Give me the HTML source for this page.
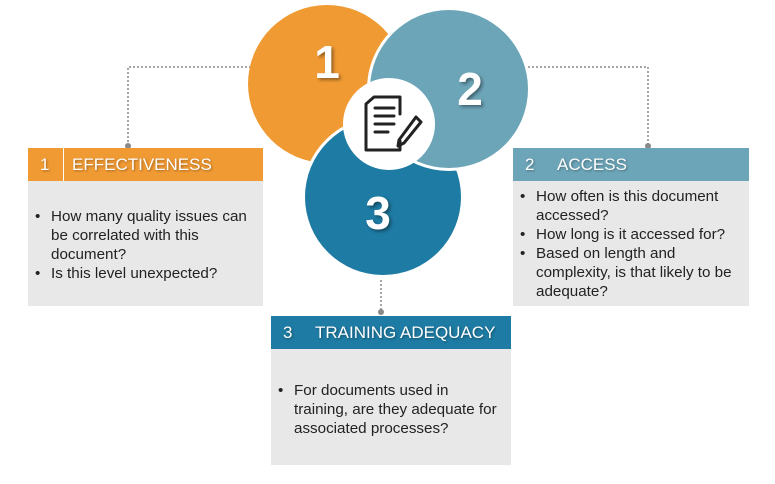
<!DOCTYPE html>
<html><head><meta charset="utf-8"><style>
body{margin:0;width:775px;height:484px;background:#fff;position:relative;overflow:hidden;font-family:"Liberation Sans",sans-serif}
.box{position:absolute;background:#e8e8e8}
.hd{position:absolute;left:0;right:0;top:0;height:33px;color:#fff;font-size:17px;line-height:33px;text-shadow:1px 1px 2px rgba(0,0,0,.35)}
.hd .n{position:absolute;left:12px}
.hd .t{position:absolute;left:44px}
ul{position:absolute;margin:0;padding:0 0 0 23px;font-size:15.2px;line-height:19px;color:#222;list-style:none}
li{position:relative}
li:before{content:"•";position:absolute;left:-16px}
</style></head><body>
<svg width="775" height="484" style="position:absolute;left:0;top:0">
<g stroke="#888" stroke-width="1.5" stroke-dasharray="2,2" fill="none">
<polyline points="128,146 128,67 252,67"/>
<polyline points="528,67 648,67 648,146"/>
<line x1="381" y1="276" x2="381" y2="310"/>
</g>
<circle cx="128" cy="146" r="3" fill="#888"/>
<circle cx="648" cy="146" r="3" fill="#888"/>
<circle cx="381" cy="312" r="3" fill="#888"/>
<circle cx="327" cy="84" r="79" fill="#f09a33"/>
<circle cx="383" cy="197" r="81" fill="#fff"/>
<circle cx="383" cy="197" r="78" fill="#1e7ba3"/>
<circle cx="449" cy="89" r="82" fill="#fff"/>
<circle cx="449" cy="89" r="79" fill="#6ca5b8"/>
<circle cx="389" cy="124" r="46" fill="#fff"/>
<g fill="none" stroke="#222" stroke-width="3" stroke-linejoin="round" stroke-linecap="round">
<path d="M400,114 L400,97 L374,97 L366,104 L366,150 L400,150 L400,141"/>
<line x1="375" y1="108" x2="394" y2="108"/><line x1="375" y1="116" x2="394" y2="116"/>
<line x1="375" y1="124" x2="394" y2="124"/><line x1="375" y1="132" x2="388" y2="132"/>
<path d="M416,117 L421,122 L404,143 L398,146 L399,140 Z"/>
</g>
<g font-family="Liberation Sans" font-weight="bold" fill="#fff" font-size="46" text-anchor="middle" style="text-shadow:2px 2px 3px rgba(0,0,0,.4)">
<text x="327" y="78">1</text><text x="470" y="105">2</text><text x="378" y="229">3</text>
</g>
</svg>
<div class="box" style="left:28px;top:148px;width:235px;height:158px">
<div class="hd" style="background:#f09a33"><span class="n">1</span><span style="position:absolute;left:35px;top:0;width:1px;height:33px;background:#fff"></span><span class="t">EFFECTIVENESS</span></div>
<ul style="top:59px;width:200px"><li>How many quality issues can be correlated with this document?</li><li>Is this level unexpected?</li></ul>
</div>
<div class="box" style="left:513px;top:148px;width:236px;height:158px">
<div class="hd" style="background:#6ca5b8"><span class="n">2</span><span class="t">ACCESS</span></div>
<ul style="top:39px;width:202px"><li>How often is this document accessed?</li><li>How long is it accessed for?</li><li>Based on length and complexity, is that likely to be adequate?</li></ul>
</div>
<div class="box" style="left:271px;top:316px;width:240px;height:149px">
<div class="hd" style="background:#1e7ba3"><span class="n">3</span><span class="t">TRAINING ADEQUACY</span></div>
<ul style="top:65px;width:205px"><li>For documents used in training, are they adequate for associated processes?</li></ul>
</div>
</body></html>
